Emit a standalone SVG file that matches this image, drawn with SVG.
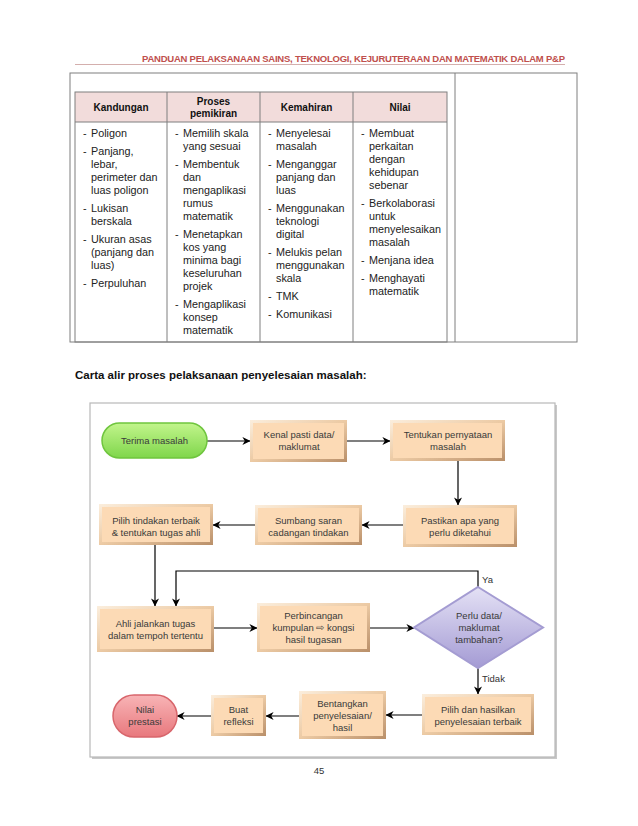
<svg xmlns="http://www.w3.org/2000/svg" width="638" height="826" viewBox="0 0 638 826">
<style>
.ttl{font:bold 9.5px "Liberation Sans",Arial,sans-serif;fill:#c0504d}
.th{font:bold 10px "Liberation Sans",Arial,sans-serif;fill:#111;text-anchor:middle}
.td{font:10.8px "Liberation Sans",Arial,sans-serif;fill:#222}
.tl{stroke:#7f7f7f;stroke-width:1;fill:none}
.bt{font:9.5px "Liberation Sans",Arial,sans-serif;fill:#3a3a3a;text-anchor:middle}
.lbl{font:9.5px "Liberation Sans",Arial,sans-serif;fill:#333}
.bo{fill:url(#bev)}
.bi{fill:#fcdab5}
.cn{stroke:#000;stroke-width:1.2;fill:none;marker-end:url(#ah)}
</style>
<defs>
<linearGradient id="bev" x1="0" y1="0" x2="1" y2="1">
<stop offset="0" stop-color="#fbeedd"/><stop offset="0.5" stop-color="#eccaa4"/><stop offset="1" stop-color="#b98f69"/>
</linearGradient>
<linearGradient id="grn" x1="0" y1="0" x2="0" y2="1">
<stop offset="0" stop-color="#c2f58c"/><stop offset="1" stop-color="#7fd64b"/>
</linearGradient>
<linearGradient id="red" x1="0" y1="0" x2="0" y2="1">
<stop offset="0" stop-color="#f8b4b6"/><stop offset="1" stop-color="#e8787d"/>
</linearGradient>
<linearGradient id="pur" x1="0" y1="0" x2="0" y2="1">
<stop offset="0" stop-color="#e4e1f5"/><stop offset="1" stop-color="#a49bd4"/>
</linearGradient>
<marker id="ah" viewBox="0 0 10 10" refX="9.5" refY="5" markerWidth="8" markerHeight="8" markerUnits="userSpaceOnUse" orient="auto">
<path d="M0,0 L10,5 L0,10 L3,5 z" fill="#000"/>
</marker>
</defs>
<rect width="638" height="826" fill="#fff"/>

<g id="page-header">
<text class="ttl" x="142" y="61.5" textLength="423" lengthAdjust="spacing">PANDUAN PELAKSANAAN SAINS, TEKNOLOGI, KEJURUTERAAN DAN MATEMATIK DALAM P&amp;P</text>
<line x1="75" y1="64.5" x2="565" y2="64.5" stroke="#c99a98" stroke-width="0.8"/>
</g>

<g id="table">
<rect class="tl" x="70" y="73" width="507" height="269"/>
<line class="tl" x1="455" y1="73" x2="455" y2="342"/>
<rect x="75" y="92" width="372" height="30" fill="#f2dcdb"/>
<rect class="tl" x="75" y="92" width="372" height="250"/>
<line class="tl" x1="75" y1="122" x2="447" y2="122"/>
<line class="tl" x1="167" y1="92" x2="167" y2="342"/>
<line class="tl" x1="260" y1="92" x2="260" y2="342"/>
<line class="tl" x1="353" y1="92" x2="353" y2="342"/>
<text class="th" x="121" y="111">Kandungan</text>
<text class="th" x="213.5" y="104.5">Proses</text>
<text class="th" x="213.5" y="117">pemikiran</text>
<text class="th" x="306.5" y="111">Kemahiran</text>
<text class="th" x="400" y="111">Nilai</text>

<g class="td">
<text x="83" y="136.5">-</text><text x="91" y="136.5">Poligon</text>
<text x="83" y="154.5">-</text><text x="91" y="154.5">Panjang,</text>
<text x="91" y="167.5">lebar,</text>
<text x="91" y="180.5">perimeter dan</text>
<text x="91" y="193.5">luas poligon</text>
<text x="83" y="211.5">-</text><text x="91" y="211.5">Lukisan</text>
<text x="91" y="224.5">berskala</text>
<text x="83" y="242.5">-</text><text x="91" y="242.5">Ukuran asas</text>
<text x="91" y="255.5">(panjang dan</text>
<text x="91" y="268.5">luas)</text>
<text x="83" y="286.5">-</text><text x="91" y="286.5">Perpuluhan</text>

<text x="175" y="136.5">-</text><text x="183" y="136.5">Memilih skala</text>
<text x="183" y="149.5">yang sesuai</text>
<text x="175" y="167.5">-</text><text x="183" y="167.5">Membentuk</text>
<text x="183" y="180.5">dan</text>
<text x="183" y="193.5">mengaplikasi</text>
<text x="183" y="206.5">rumus</text>
<text x="183" y="219.5">matematik</text>
<text x="175" y="237.5">-</text><text x="183" y="237.5">Menetapkan</text>
<text x="183" y="250.5">kos yang</text>
<text x="183" y="263.5">minima bagi</text>
<text x="183" y="276.5">keseluruhan</text>
<text x="183" y="289.5">projek</text>
<text x="175" y="307.5">-</text><text x="183" y="307.5">Mengaplikasi</text>
<text x="183" y="320.5">konsep</text>
<text x="183" y="333.5">matematik</text>

<text x="268" y="136.5">-</text><text x="276" y="136.5">Menyelesai</text>
<text x="276" y="149.5">masalah</text>
<text x="268" y="167.5">-</text><text x="276" y="167.5">Menganggar</text>
<text x="276" y="180.5">panjang dan</text>
<text x="276" y="193.5">luas</text>
<text x="268" y="211.5">-</text><text x="276" y="211.5">Menggunakan</text>
<text x="276" y="224.5">teknologi</text>
<text x="276" y="237.5">digital</text>
<text x="268" y="255.5">-</text><text x="276" y="255.5">Melukis pelan</text>
<text x="276" y="268.5">menggunakan</text>
<text x="276" y="281.5">skala</text>
<text x="268" y="299.5">-</text><text x="276" y="299.5">TMK</text>
<text x="268" y="317.5">-</text><text x="276" y="317.5">Komunikasi</text>

<text x="361" y="136.5">-</text><text x="369" y="136.5">Membuat</text>
<text x="369" y="149.5">perkaitan</text>
<text x="369" y="162.5">dengan</text>
<text x="369" y="175.5">kehidupan</text>
<text x="369" y="188.5">sebenar</text>
<text x="361" y="206.5">-</text><text x="369" y="206.5">Berkolaborasi</text>
<text x="369" y="219.5">untuk</text>
<text x="369" y="232.5">menyelesaikan</text>
<text x="369" y="245.5">masalah</text>
<text x="361" y="263.5">-</text><text x="369" y="263.5">Menjana idea</text>
<text x="361" y="281.5">-</text><text x="369" y="281.5">Menghayati</text>
<text x="369" y="294.5">matematik</text>
</g>
</g>

<text id="caption" x="75" y="379" style="font:bold 11.5px 'Liberation Sans',Arial,sans-serif;fill:#111">Carta alir proses pelaksanaan penyelesaian masalah:</text>

<g id="frame">
<rect x="92" y="405" width="465" height="354" fill="#c8c8c8"/>
<rect x="90" y="403" width="465" height="354" fill="#fff" stroke="#b8b8b8" stroke-width="1.2"/>
</g>

<g id="connectors">
<path class="cn" d="M207,441 H250"/>
<path class="cn" d="M347,441 H390"/>
<path class="cn" d="M458,461 V505"/>
<path class="cn" d="M403,525 H362"/>
<path class="cn" d="M255,525 H213"/>
<path class="cn" d="M155,545 V606"/>
<path class="cn" d="M478,587 V571 H176 V606"/>
<path class="cn" d="M214,628 H257"/>
<path class="cn" d="M370,628 H414"/>
<path class="cn" d="M478,668 V694"/>
<path class="cn" d="M422,715 H386"/>
<path class="cn" d="M299,716 H266"/>
<path class="cn" d="M211,716 H177"/>
<text class="lbl" x="482" y="583">Ya</text>
<text class="lbl" x="482" y="682">Tidak</text>
</g>

<g id="n-terima">
<rect x="102" y="423" width="105" height="35" rx="17.5" fill="url(#grn)" stroke="#6fc53e" stroke-width="1.5"/>
<text class="bt" x="154.5" y="444.3">Terima masalah</text>
</g>
<g id="n-kenal">
<rect class="bo" x="250" y="420" width="97" height="42"/><rect class="bi" x="253" y="423" width="91" height="36"/>
<text class="bt" x="299" y="438.3">Kenal pasti data/</text>
<text class="bt" x="299" y="450.3">maklumat</text>
</g>
<g id="n-tentukan">
<rect class="bo" x="390" y="420" width="115" height="41"/><rect class="bi" x="393" y="423" width="109" height="35"/>
<text class="bt" x="448" y="438.3">Tentukan pernyataan</text>
<text class="bt" x="448" y="450.3">masalah</text>
</g>
<g id="n-pastikan">
<rect class="bo" x="403" y="505" width="114" height="42"/><rect class="bi" x="406" y="508" width="108" height="36"/>
<text class="bt" x="460" y="524.3">Pastikan apa yang</text>
<text class="bt" x="460" y="536.3">perlu diketahui</text>
</g>
<g id="n-sumbang">
<rect class="bo" x="255" y="505" width="107" height="40"/><rect class="bi" x="258" y="508" width="101" height="34"/>
<text class="bt" x="308.5" y="524">Sumbang saran</text>
<text class="bt" x="308.5" y="536">cadangan tindakan</text>
</g>
<g id="n-pilih">
<rect class="bo" x="99" y="504" width="114" height="41"/><rect class="bi" x="102" y="507" width="108" height="35"/>
<text class="bt" x="156" y="524">Pilih tindakan terbaik</text>
<text class="bt" x="156" y="536">&amp; tentukan tugas ahli</text>
</g>
<g id="n-ahli">
<rect class="bo" x="97" y="606" width="117" height="46"/><rect class="bi" x="100" y="609" width="111" height="40"/>
<text class="bt" x="155.5" y="626.5">Ahli jalankan tugas</text>
<text class="bt" x="155.5" y="638.5">dalam tempoh tertentu</text>
</g>
<g id="n-perbincangan">
<rect class="bo" x="257" y="603" width="113" height="49"/><rect class="bi" x="260" y="606" width="107" height="43"/>
<text class="bt" x="313.5" y="619.3">Perbincangan</text>
<text class="bt" x="313.5" y="631.3">kumpulan ⇨ kongsi</text>
<text class="bt" x="313.5" y="643.3">hasil tugasan</text>
</g>
<g id="n-perlu">
<polygon points="478,587 543,627.5 478,668 414,627.5" fill="url(#pur)" stroke="#a49cd2" stroke-width="2"/>
<text class="bt" x="479" y="619.3">Perlu data/</text>
<text class="bt" x="479" y="631.3">maklumat</text>
<text class="bt" x="479" y="643.3">tambahan?</text>
</g>
<g id="n-hasilkan">
<rect class="bo" x="422" y="694" width="112" height="41"/><rect class="bi" x="425" y="697" width="106" height="35"/>
<text class="bt" x="478" y="713.3">Pilih dan hasilkan</text>
<text class="bt" x="478" y="725.3">penyelesaian terbaik</text>
</g>
<g id="n-bentangkan">
<rect class="bo" x="299" y="691" width="87" height="48"/><rect class="bi" x="302" y="694" width="81" height="42"/>
<text class="bt" x="342.5" y="706.5">Bentangkan</text>
<text class="bt" x="342.5" y="718.5">penyelesaian/</text>
<text class="bt" x="342.5" y="730.5">hasil</text>
</g>
<g id="n-buat">
<rect class="bo" x="211" y="695" width="55" height="41"/><rect class="bi" x="214" y="698" width="49" height="35"/>
<text class="bt" x="238.5" y="713.3">Buat</text>
<text class="bt" x="238.5" y="725.3">refleksi</text>
</g>
<g id="n-nilai">
<rect x="113" y="695" width="64" height="42" rx="21" fill="url(#red)" stroke="#d8666c" stroke-width="1.5"/>
<text class="bt" x="145" y="713.3">Nilai</text>
<text class="bt" x="145" y="725.3">prestasi</text>
</g>

<text id="page-no" x="319" y="774" text-anchor="middle" style="font:9.5px 'Liberation Sans',Arial,sans-serif;fill:#333">45</text>
</svg>
